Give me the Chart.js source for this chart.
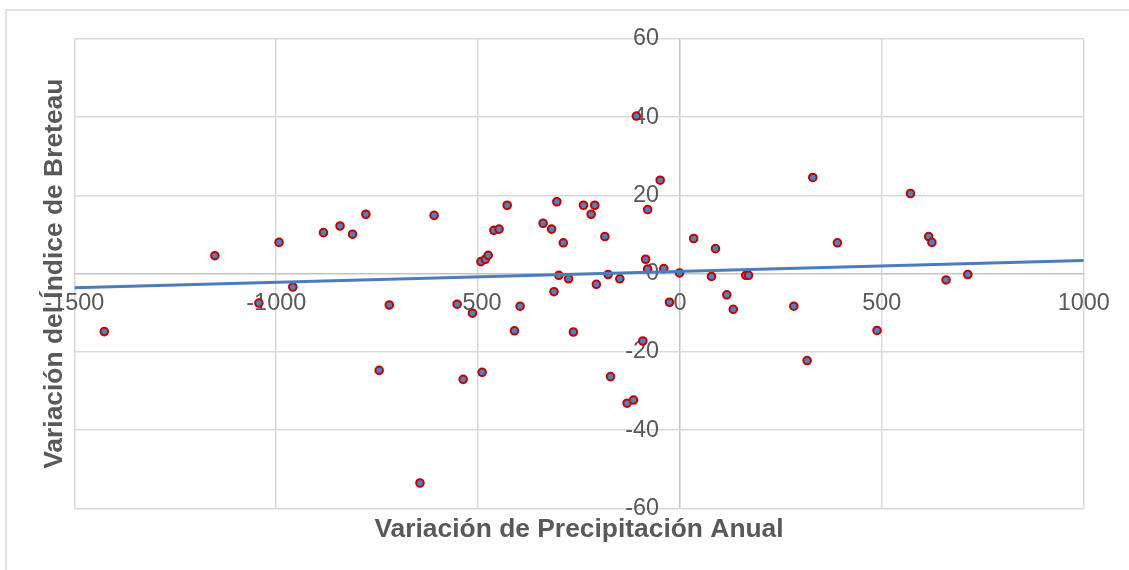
<!DOCTYPE html>
<html>
<head>
<meta charset="utf-8">
<script src="https://cdn.jsdelivr.net/npm/chart.js@4.4.1/dist/chart.umd.min.js"></script>
<style>
  body { margin: 0; background: #fff; }
  canvas { display: block; }
</style>
</head>
<body>
<canvas id="chart" width="1129" height="570"></canvas>
<script>
// variación de precipitación anual (x) y del índice de Breteau (y)
const precipVar = [
  -1426, -1152, -1043, -993, -959, -883, -842, -811, -778, -745,
  -720, -644, -609, -552, -537, -514, -493, -490, -482, -475,
  -461, -448, -428, -410, -396, -339, -318, -312, -305, -300,
  -289, -276, -264, -239, -220, -211, -207, -186, -178, -172,
  -149, -131, -115, -108, -92, -85, -80, -80, -49, -40,
  -26, -1, 34, 78, 88, 116, 132, 163, 170, 282,
  315, 329, 390, 488, 571, 616, 624, 659, 713
];
const breteauVar = [
  -14.8, 4.6, -7.5, 8.0, -3.4, 10.5, 12.2, 10.1, 15.2, -24.7,
  -8.0, -53.5, 14.9, -7.8, -27.0, -10.1, 3.1, -25.2, 3.7, 4.7,
  11.1, 11.4, 17.5, -14.6, -8.3, 12.9, 11.4, -4.6, 18.4, -0.4,
  7.9, -1.3, -14.9, 17.5, 15.2, 17.5, -2.7, 9.5, -0.2, -26.3,
  -1.3, -33.1, -32.3, 40.3, -17.2, 3.7, 16.4, 1.2, 23.9, 1.3,
  -7.3, 0.2, 9.0, -0.7, 6.4, -5.4, -9.1, -0.4, -0.4, -8.3,
  -22.2, 24.6, 7.9, -14.5, 20.5, 9.5, 8.0, -1.6, -0.2
];

// línea de tendencia (extremos)
const trendX = [-1500, 1000];
const trendY = [-3.6, 3.4];

const xTickValues = [-1500, -1000, -500, 0, 500, 1000];
const yTickValues = [-60, -40, -20, 0, 20, 40, 60];

const txtColor = '#595959';
const gridColor = '#d9d9d9';
const zeroColor = '#c4c4c4';

const points = precipVar.map((x, i) => ({ x: x, y: breteauVar[i] }));
const trend = trendX.map((x, i) => ({ x: x, y: trendY[i] }));

// marco exterior del gráfico
const chartFrame = {
  id: 'chartFrame',
  beforeDraw(chart) {
    const ctx = chart.ctx;
    ctx.save();
    ctx.strokeStyle = gridColor;
    ctx.lineWidth = 1.5;
    ctx.beginPath();
    ctx.moveTo(6, 570);
    ctx.lineTo(6, 10);
    ctx.lineTo(1129, 10);
    ctx.stroke();
    ctx.restore();
  }
};

new Chart(document.getElementById('chart'), {
  type: 'scatter',
  data: {
    datasets: [
      {
        type: 'line',
        label: 'Tendencia',
        data: trend,
        borderColor: '#4a7ebb',
        borderWidth: 3,
        pointRadius: 0,
        fill: false
      },
      {
        label: 'Datos',
        data: points,
        backgroundColor: '#4f81bd',
        borderColor: '#c00000',
        borderWidth: 2,
        pointRadius: 3.8,
        pointHoverRadius: 3.8
      }
    ]
  },
  options: {
    responsive: false,
    animation: false,
    devicePixelRatio: 1,
    layout: {
      padding: { top: 39, right: 45.3, bottom: 24, left: 39.1 }
    },
    plugins: {
      legend: { display: false },
      tooltip: { enabled: false },
      title: {
        display: true,
        text: 'Variación de Precipitación Anual',
        position: 'bottom',
        fullSize: false,
        color: txtColor,
        font: { family: "'Liberation Sans', Arial, sans-serif", size: 26.4, weight: 'bold', lineHeight: 1.2 },
        padding: { top: 5.9, bottom: 0 }
      },
      subtitle: {
        display: true,
        text: 'Variación del Índice de Breteau',
        position: 'left',
        fullSize: false,
        color: txtColor,
        font: { family: "'Liberation Sans', Arial, sans-serif", size: 26.4, weight: 'bold', lineHeight: 1.2 },
        padding: { top: 0, bottom: 3.6 }
      }
    },
    scales: {
      x: {
        type: 'linear',
        position: { y: 0 },
        min: -1500,
        max: 1000,
        afterBuildTicks: s => { s.ticks = xTickValues.map(v => ({ value: v })); },
        border: { display: false },
        grid: {
          drawTicks: false,
          lineWidth: 1.5,
          color: c => (c.tick && c.tick.value === 0 ? zeroColor : gridColor)
        },
        ticks: {
          padding: 15.4,
          maxRotation: 0,
          autoSkip: false,
          color: txtColor,
          callback: v => String(v),
          font: { family: "'Liberation Sans', Arial, sans-serif", size: 23.4, lineHeight: 1.2 }
        }
      },
      y: {
        type: 'linear',
        position: { x: -52 },
        min: -60,
        max: 60,
        afterBuildTicks: s => { s.ticks = yTickValues.map(v => ({ value: v })); },
        border: { display: false },
        grid: {
          drawTicks: false,
          lineWidth: 1.5,
          color: c => (c.tick && c.tick.value === 0 ? zeroColor : gridColor)
        },
        ticks: {
          padding: 0,
          autoSkip: false,
          color: txtColor,
          callback: v => String(v),
          font: { family: "'Liberation Sans', Arial, sans-serif", size: 23.4, lineHeight: 1.2 }
        }
      }
    }
  },
  plugins: [chartFrame]
});
</script>
</body>
</html>
